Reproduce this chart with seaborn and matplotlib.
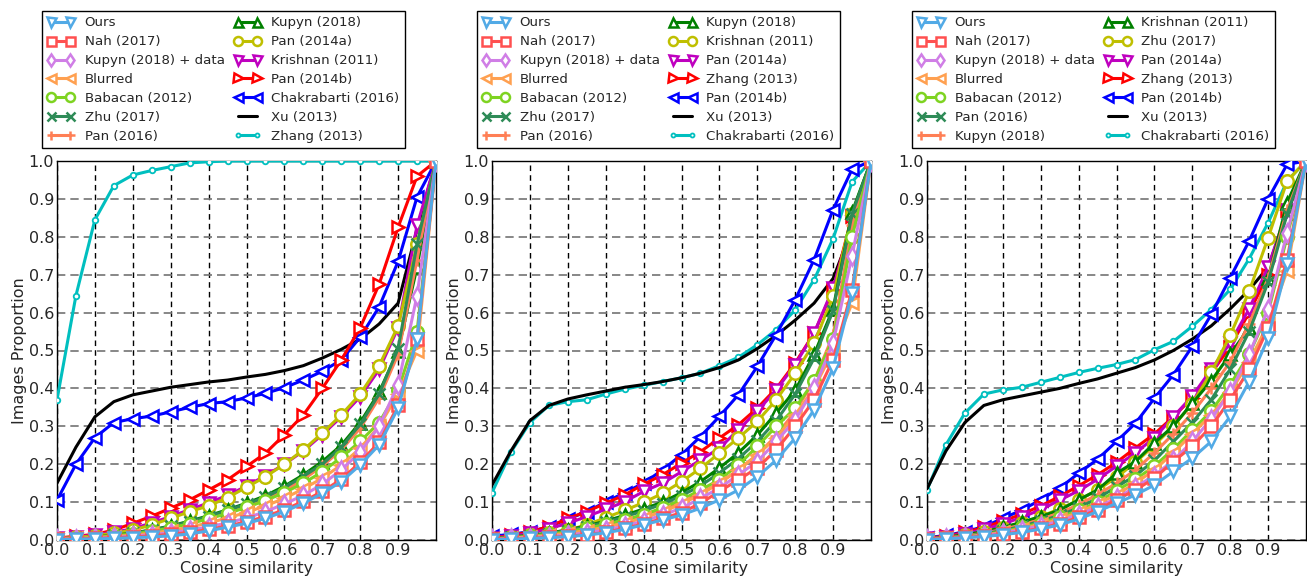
import matplotlib
matplotlib.use("Agg")
import matplotlib.pyplot as plt
import pandas as pd
import seaborn as sns

# cosine similarity thresholds shared by every curve
cos_sim = [0.0, 0.05, 0.1, 0.15, 0.2, 0.25, 0.3, 0.35, 0.4, 0.45, 0.5,
           0.55, 0.6, 0.65, 0.7, 0.75, 0.8, 0.85, 0.9, 0.95, 1.0]

# ---- left panel ----
left_labels = ["Ours", "Nah (2017)", "Kupyn (2018) + data", "Blurred",
               "Babacan (2012)", "Zhu (2017)", "Pan (2016)", "Kupyn (2018)",
               "Pan (2014a)", "Krishnan (2011)", "Pan (2014b)",
               "Chakrabarti (2016)", "Xu (2013)", "Zhang (2013)"]
left_ours = [0.001, 0.002, 0.003, 0.004, 0.006, 0.008, 0.011, 0.016, 0.024, 0.034, 0.044,
             0.057, 0.075, 0.097, 0.123, 0.154, 0.198, 0.251, 0.348, 0.53, 1.0]
left_nah = [0.002, 0.003, 0.004, 0.006, 0.008, 0.011, 0.015, 0.020, 0.028, 0.037, 0.048,
            0.062, 0.08, 0.102, 0.128, 0.16, 0.205, 0.258, 0.355, 0.53, 1.0]
left_kupyn_data = [0.002, 0.003, 0.005, 0.007, 0.010, 0.014, 0.019, 0.026, 0.035, 0.045, 0.058,
                   0.075, 0.095, 0.118, 0.147, 0.185, 0.232, 0.300, 0.410, 0.645, 1.0]
left_blurred = [0.002, 0.004, 0.006, 0.009, 0.013, 0.018, 0.025, 0.034, 0.045, 0.058, 0.073,
                0.09, 0.11, 0.135, 0.163, 0.198, 0.242, 0.30, 0.385, 0.50, 1.0]
left_babacan = [0.003, 0.005, 0.008, 0.011, 0.016, 0.023, 0.032, 0.043, 0.056, 0.070, 0.086,
                0.104, 0.125, 0.150, 0.180, 0.218, 0.260, 0.310, 0.395, 0.55, 1.0]
left_zhu = [0.003, 0.005, 0.008, 0.012, 0.018, 0.026, 0.036, 0.048, 0.062, 0.078, 0.095,
            0.113, 0.138, 0.168, 0.200, 0.245, 0.305, 0.385, 0.505, 0.78, 1.0]
left_pan16 = [0.003, 0.005, 0.007, 0.011, 0.016, 0.024, 0.033, 0.045, 0.058, 0.073, 0.09,
              0.108, 0.13, 0.16, 0.195, 0.238, 0.295, 0.375, 0.49, 0.74, 1.0]
left_kupyn = [0.003, 0.005, 0.008, 0.012, 0.018, 0.027, 0.037, 0.050, 0.064, 0.080, 0.097,
              0.117, 0.142, 0.172, 0.207, 0.250, 0.310, 0.390, 0.500, 0.72, 1.0]
left_pan14a = [0.004, 0.007, 0.011, 0.018, 0.026, 0.04, 0.057, 0.075, 0.09, 0.112, 0.139,
               0.167, 0.200, 0.238, 0.282, 0.330, 0.385, 0.460, 0.565, 0.78, 1.0]
left_krishnan = [0.005, 0.008, 0.013, 0.02, 0.03, 0.045, 0.062, 0.08, 0.098, 0.118, 0.142,
                 0.17, 0.2, 0.235, 0.278, 0.325, 0.378, 0.45, 0.56, 0.83, 1.0]
left_pan14b = [0.005, 0.01, 0.015, 0.026, 0.044, 0.063, 0.084, 0.106, 0.132, 0.159, 0.194,
               0.229, 0.278, 0.33, 0.40, 0.475, 0.56, 0.675, 0.825, 0.96, 1.0]
left_chakrabarti = [0.105, 0.2, 0.27, 0.31, 0.32, 0.327, 0.338, 0.35, 0.36, 0.365, 0.375,
                    0.387, 0.402, 0.422, 0.445, 0.475, 0.535, 0.615, 0.735, 0.905, 1.0]
left_xu = [0.15, 0.245, 0.325, 0.365, 0.383, 0.393, 0.403, 0.41, 0.417, 0.422, 0.43,
           0.437, 0.447, 0.46, 0.48, 0.503, 0.53, 0.57, 0.625, 0.82, 1.0]
left_zhang = [0.37, 0.645, 0.845, 0.935, 0.963, 0.975, 0.985, 0.995, 0.998, 1.0, 1.0,
              1.0, 1.0, 1.0, 1.0, 1.0, 1.0, 1.0, 1.0, 1.0, 1.0]

# ---- middle panel ----
mid_labels = ["Ours", "Nah (2017)", "Kupyn (2018) + data", "Blurred",
              "Babacan (2012)", "Zhu (2017)", "Pan (2016)", "Kupyn (2018)",
              "Krishnan (2011)", "Pan (2014a)", "Zhang (2013)", "Pan (2014b)",
              "Xu (2013)", "Chakrabarti (2016)"]
mid_ours = [0.001, 0.002, 0.004, 0.006, 0.009, 0.013, 0.019, 0.028, 0.04, 0.053, 0.066,
            0.084, 0.106, 0.132, 0.167, 0.211, 0.269, 0.344, 0.454, 0.652, 1.0]
mid_nah = [0.002, 0.003, 0.005, 0.007, 0.01, 0.014, 0.02, 0.031, 0.042, 0.057, 0.072,
           0.097, 0.128, 0.159, 0.19, 0.238, 0.3, 0.37, 0.476, 0.66, 1.0]
mid_kupyn_data = [0.002, 0.004, 0.006, 0.009, 0.013, 0.019, 0.027, 0.037, 0.05, 0.066, 0.084,
                  0.11, 0.137, 0.172, 0.207, 0.26, 0.317, 0.4, 0.52, 0.75, 1.0]
mid_blurred = [0.002, 0.005, 0.008, 0.012, 0.018, 0.025, 0.034, 0.045, 0.058, 0.075, 0.095,
               0.12, 0.15, 0.185, 0.225, 0.27, 0.33, 0.40, 0.50, 0.625, 1.0]
mid_babacan = [0.003, 0.006, 0.01, 0.015, 0.022, 0.031, 0.041, 0.053, 0.067, 0.085, 0.106,
               0.132, 0.159, 0.198, 0.247, 0.30, 0.348, 0.42, 0.53, 0.8, 1.0]
mid_zhu = [0.004, 0.007, 0.011, 0.017, 0.025, 0.035, 0.047, 0.061, 0.077, 0.095, 0.117,
           0.143, 0.177, 0.215, 0.26, 0.315, 0.385, 0.48, 0.605, 0.86, 1.0]
mid_pan16 = [0.003, 0.006, 0.009, 0.014, 0.021, 0.03, 0.04, 0.052, 0.066, 0.082, 0.1,
             0.123, 0.15, 0.185, 0.225, 0.275, 0.34, 0.42, 0.54, 0.83, 1.0]
mid_kupyn = [0.004, 0.008, 0.012, 0.018, 0.027, 0.037, 0.05, 0.065, 0.082, 0.1, 0.125,
             0.154, 0.19, 0.23, 0.277, 0.335, 0.395, 0.49, 0.61, 0.865, 1.0]
mid_krishnan = [0.004, 0.007, 0.012, 0.018, 0.026, 0.04, 0.059, 0.078, 0.099, 0.123, 0.154,
                0.189, 0.229, 0.269, 0.313, 0.37, 0.44, 0.52, 0.643, 0.86, 1.0]
mid_pan14a = [0.005, 0.01, 0.018, 0.03, 0.044, 0.062, 0.081, 0.101, 0.128, 0.15, 0.18,
              0.211, 0.242, 0.291, 0.34, 0.396, 0.463, 0.546, 0.665, 0.84, 1.0]
mid_zhang = [0.006, 0.012, 0.022, 0.035, 0.057, 0.075, 0.097, 0.119, 0.147, 0.172, 0.203,
             0.233, 0.269, 0.304, 0.348, 0.40, 0.467, 0.546, 0.66, 0.855, 1.0]
mid_pan14b = [0.01, 0.015, 0.022, 0.035, 0.055, 0.075, 0.1, 0.125, 0.15, 0.185, 0.225,
              0.273, 0.326, 0.383, 0.458, 0.542, 0.634, 0.74, 0.872, 0.978, 1.0]
mid_xu = [0.145, 0.235, 0.315, 0.355, 0.372, 0.383, 0.393, 0.403, 0.41, 0.418, 0.428,
          0.44, 0.455, 0.475, 0.505, 0.54, 0.58, 0.625, 0.69, 0.82, 1.0]
mid_chakrabarti = [0.125, 0.232, 0.31, 0.355, 0.365, 0.37, 0.385, 0.398, 0.408, 0.418, 0.428,
                   0.44, 0.46, 0.482, 0.515, 0.555, 0.607, 0.687, 0.795, 0.945, 1.0]

# ---- right panel ----
right_labels = ["Ours", "Nah (2017)", "Kupyn (2018) + data", "Blurred",
                "Babacan (2012)", "Pan (2016)", "Kupyn (2018)", "Krishnan (2011)",
                "Zhu (2017)", "Pan (2014a)", "Zhang (2013)", "Pan (2014b)",
                "Xu (2013)", "Chakrabarti (2016)"]
right_ours = [0.001, 0.003, 0.006, 0.009, 0.014, 0.02, 0.029, 0.04, 0.055, 0.075, 0.097,
              0.119, 0.145, 0.181, 0.216, 0.26, 0.326, 0.418, 0.533, 0.727, 1.0]
right_nah = [0.002, 0.004, 0.007, 0.01, 0.015, 0.022, 0.031, 0.043, 0.06, 0.08, 0.106,
             0.132, 0.163, 0.207, 0.247, 0.30, 0.37, 0.45, 0.56, 0.74, 1.0]
right_kupyn_data = [0.002, 0.004, 0.007, 0.012, 0.018, 0.027, 0.037, 0.05, 0.067, 0.087, 0.11,
                    0.14, 0.17, 0.21, 0.26, 0.32, 0.39, 0.49, 0.61, 0.81, 1.0]
right_blurred = [0.002, 0.004, 0.008, 0.013, 0.02, 0.03, 0.041, 0.055, 0.073, 0.095, 0.12,
                 0.15, 0.185, 0.23, 0.28, 0.33, 0.39, 0.47, 0.57, 0.71, 1.0]
right_babacan = [0.002, 0.005, 0.009, 0.014, 0.022, 0.033, 0.045, 0.06, 0.078, 0.1, 0.13,
                 0.16, 0.195, 0.24, 0.29, 0.34, 0.41, 0.49, 0.60, 0.80, 1.0]
right_pan16 = [0.002, 0.005, 0.01, 0.016, 0.025, 0.036, 0.05, 0.065, 0.085, 0.11, 0.14,
               0.17, 0.21, 0.26, 0.31, 0.37, 0.45, 0.55, 0.68, 0.86, 1.0]
right_kupyn = [0.003, 0.006, 0.011, 0.018, 0.028, 0.04, 0.054, 0.072, 0.093, 0.12, 0.15,
               0.185, 0.23, 0.28, 0.335, 0.40, 0.47, 0.57, 0.69, 0.87, 1.0]
right_krishnan = [0.003, 0.007, 0.014, 0.022, 0.033, 0.047, 0.062, 0.079, 0.106, 0.132, 0.176,
                  0.207, 0.256, 0.301, 0.361, 0.42, 0.49, 0.56, 0.69, 0.89, 1.0]
right_zhu = [0.003, 0.007, 0.013, 0.021, 0.032, 0.045, 0.062, 0.082, 0.105, 0.132, 0.165,
             0.205, 0.25, 0.30, 0.36, 0.442, 0.54, 0.656, 0.797, 0.947, 1.0]
right_pan14a = [0.004, 0.009, 0.017, 0.028, 0.042, 0.06, 0.08, 0.105, 0.13, 0.16, 0.195,
                0.23, 0.27, 0.325, 0.38, 0.45, 0.52, 0.61, 0.72, 0.87, 1.0]
right_zhang = [0.005, 0.01, 0.02, 0.033, 0.05, 0.068, 0.09, 0.115, 0.143, 0.172, 0.205,
               0.243, 0.28, 0.325, 0.375, 0.44, 0.51, 0.60, 0.70, 0.87, 1.0]
right_pan14b = [0.006, 0.012, 0.022, 0.035, 0.057, 0.079, 0.106, 0.137, 0.176, 0.213, 0.26,
                0.308, 0.374, 0.436, 0.511, 0.595, 0.692, 0.789, 0.9, 0.991, 1.0]
right_xu = [0.135, 0.235, 0.31, 0.355, 0.37, 0.38, 0.39, 0.4, 0.413, 0.425, 0.44,
            0.455, 0.475, 0.5, 0.53, 0.565, 0.61, 0.66, 0.72, 0.86, 1.0]
right_chakrabarti = [0.132, 0.251, 0.335, 0.385, 0.396, 0.403, 0.416, 0.429, 0.442, 0.453, 0.463,
                     0.476, 0.502, 0.524, 0.564, 0.608, 0.661, 0.742, 0.837, 0.947, 1.0]

# line styles are tied to the legend slot, not to the method name
_COLORS = ["#52aae6", "#ff5050", "#d07ee6", "#ffa050", "#7ed321", "#2e8b57", "#ff7f55",
           "#008000", "#bfbf00", "#bf00bf", "#ff0000", "#0000ff", "#000000", "#00bfbf"]
_MARKERS = ["v", "s", "d", "<", "o", "x", "+", "^", "o", "v", ">", "<", None, "o"]

sns.set_style("white")
plt.rcParams["font.family"] = ["DejaVu Sans"]

W, H = 1307, 581
fig = plt.figure(figsize=(W / 100, H / 100), dpi=100)

panels = [
    (57, left_labels, [left_ours, left_nah, left_kupyn_data, left_blurred, left_babacan,
                       left_zhu, left_pan16, left_kupyn, left_pan14a, left_krishnan,
                       left_pan14b, left_chakrabarti, left_xu, left_zhang]),
    (492, mid_labels, [mid_ours, mid_nah, mid_kupyn_data, mid_blurred, mid_babacan,
                       mid_zhu, mid_pan16, mid_kupyn, mid_krishnan, mid_pan14a,
                       mid_zhang, mid_pan14b, mid_xu, mid_chakrabarti]),
    (927, right_labels, [right_ours, right_nah, right_kupyn_data, right_blurred, right_babacan,
                         right_pan16, right_kupyn, right_krishnan, right_zhu, right_pan14a,
                         right_zhang, right_pan14b, right_xu, right_chakrabarti]),
]

size = 379
for left_px, labels, series in panels:
    ax = fig.add_axes([left_px / W, 41 / H, size / W, size / H])
    for i, (lab, vals) in enumerate(zip(labels, series)):
        df = pd.DataFrame({"x": cos_sim, "y": vals})
        mk = _MARKERS[i]
        kw = dict(color=_COLORS[i], linewidth=2.2, zorder=30 - i, label=lab)
        if mk is not None:
            small = i == 13
            kw.update(marker=mk, markersize=4 if small else 9,
                      markeredgewidth=1.3 if small else 1.8,
                      markeredgecolor=_COLORS[i],
                      markerfacecolor=_COLORS[i] if mk in ("x", "+") else "white")
        sns.lineplot(data=df, x="x", y="y", ax=ax, errorbar=None, **kw)

    ax.set_xlim(0, 1.0)
    ax.set_ylim(0, 1.0)
    ax.set_xticks([0.0, 0.1, 0.2, 0.3, 0.4, 0.5, 0.6, 0.7, 0.8, 0.9])
    ax.set_yticks([0.0, 0.1, 0.2, 0.3, 0.4, 0.5, 0.6, 0.7, 0.8, 0.9, 1.0])
    ax.set_xticklabels([f"{t:.1f}" for t in ax.get_xticks()])
    ax.set_yticklabels([f"{t:.1f}" for t in ax.get_yticks()])
    ax.tick_params(direction="in", length=4, labelsize=11.5, pad=2)
    ax.xaxis.grid(True, color="black", linestyle=(0, (4, 3)), linewidth=1)
    ax.yaxis.grid(True, color="0.45", linestyle=(0, (5, 3)), linewidth=1.2)
    ax.set_axisbelow(True)
    for sp in ax.spines.values():
        sp.set_color("black")
        sp.set_linewidth(1)
    ax.set_xlabel("Cosine similarity", fontsize=11.5, labelpad=2)
    ax.set_ylabel("Images Proportion", fontsize=11.5, labelpad=1)

    leg = ax.legend(ncol=2, loc="lower left", bbox_to_anchor=(-15 / size, 1 + 13 / size),
                    borderaxespad=0, fontsize=9.6, numpoints=2, handlelength=2.0,
                    handletextpad=0.8, columnspacing=0.7, labelspacing=0.44,
                    markerscale=0.72, fancybox=False, framealpha=1, edgecolor="black")
    leg.get_frame().set_linewidth(1)

fig.savefig("out.png", dpi=100)
plt.close(fig)
